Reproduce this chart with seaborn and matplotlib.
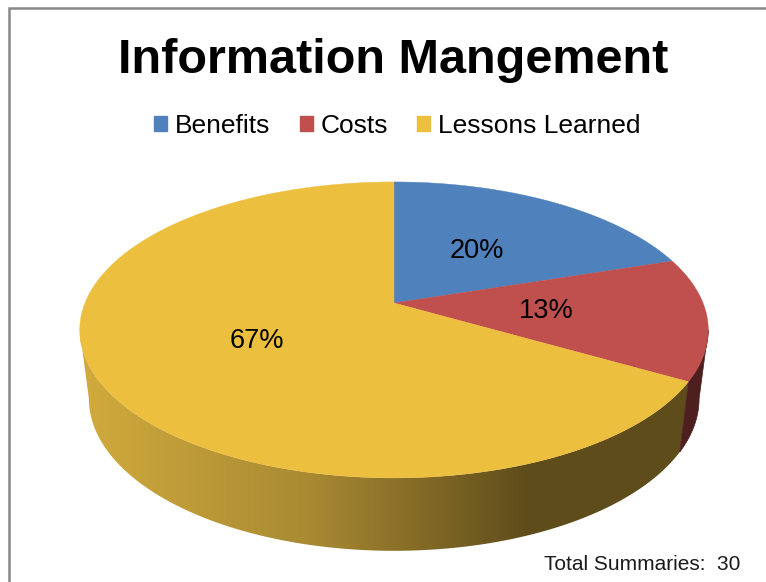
import numpy as np
import matplotlib
matplotlib.use("Agg")
import matplotlib.pyplot as plt
from matplotlib.colors import ListedColormap
from matplotlib.patches import Patch, Polygon
import seaborn as sns

categories = ["Benefits", "Costs", "Lessons Learned"]
summaries = [6, 4, 20]
top_colors = ["#4f81bd", "#c0504d", "#edbf3f"]
red_wall = "#4e1f1f"

sns.set_theme(style="white")
plt.rcParams["font.family"] = ["Liberation Sans", "DejaVu Sans"]

fig, ax = plt.subplots(figsize=(7.66, 5.82), dpi=100)
fig.subplots_adjust(0, 0, 1, 1)
ax.set_xlim(0, 766)
ax.set_ylim(582, 0)
ax.axis("off")


# circle -> screen, the tilt makes the apex sit above the ellipse centre
def project(theta, r=1.0, cy=330, s=309, ry=148, lift=27):
    x = r * np.sin(theta)
    y = r * np.cos(theta)
    d = 1 + 0.182 * y
    return 394 + s * x / d, cy - (ry * y + lift) / d


def arc(a, b, **kw):
    t = np.linspace(a, b, 200)
    return np.column_stack(project(t, **kw))


bottom = dict(cy=398, s=300, ry=152, lift=27)

shares = np.array(summaries) / sum(summaries)
edges = np.concatenate([[0], np.cumsum(shares)]) * 2 * np.pi

# side walls
left_end = np.radians(259.5)
right_start = np.radians(100.5)
wall_pts = np.vstack([arc(edges[2], left_end), arc(left_end, edges[2], **bottom)])
wall = Polygon(wall_pts, closed=True, fc="none", ec="none")
ax.add_patch(wall)
shade = sns.blend_palette(["#cfa93c", "#a98a33", "#5e4c1a"], 256)
ramp = np.clip((np.linspace(80, 710, 630) - 90) / 440, 0, 1)
img = ax.imshow(ramp[None, :], cmap=ListedColormap(shade), extent=(80, 710, 560, 330),
                aspect="auto", vmin=0, vmax=1, zorder=1)
img.set_clip_path(wall)
ax.set_xlim(0, 766)
ax.set_ylim(582, 0)

red_pts = np.vstack([arc(right_start, edges[2]), arc(edges[2], right_start, **bottom)])
ax.add_patch(Polygon(red_pts, closed=True, fc=red_wall, ec=red_wall, lw=0.5, zorder=1))

# top face
apex = np.array(project(0.0, r=0.0))
for a, b, c in zip(edges[:-1], edges[1:], top_colors):
    ax.add_patch(Polygon(np.vstack([apex, arc(a, b)]), closed=True, fc=c, ec=c, lw=0.3, zorder=2))

# percent labels
for a, b, p in zip(edges[:-1], edges[1:], shares):
    lx, ly = project((a + b) / 2, r=0.49)
    ax.text(lx, ly + 1, f"{p * 100:.0f}%", ha="center", va="center", fontsize=19.5, color="black", zorder=3)

ax.text(393.5, 73, "Information Mangement", ha="center", va="baseline", fontsize=35, fontweight="bold", color="black")
ax.text(740, 565, "Total Summaries:  " + str(sum(summaries)), ha="right", va="center", fontsize=15, color="#1a1a1a")

handles = [Patch(fc=c, ec=c, label=n) for n, c in zip(categories, top_colors)]
ax.legend(handles=handles, loc="center", bbox_to_anchor=(397.5 / 766, 1 - 126 / 582), ncol=3, frameon=False,
          fontsize=19, handlelength=0.5, handleheight=0.5, handletextpad=0.3, columnspacing=1.1,
          labelcolor="black", borderpad=0)

# chart frame, only left and top are in the crop
ax.plot([9, 9, 766], [582, 7.5, 7.5], color="#888888", lw=1.8, solid_joinstyle="miter")

fig.savefig("out.png", dpi=100, facecolor="white")
